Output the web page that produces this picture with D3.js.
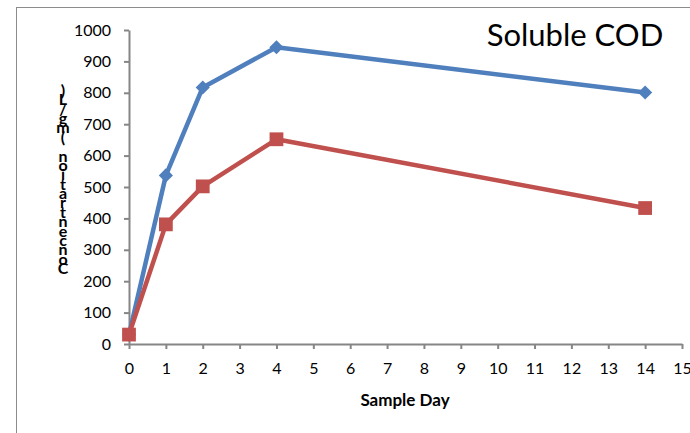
<!DOCTYPE html>
<html>
<head>
<meta charset="utf-8">
<script src="https://cdn.jsdelivr.net/npm/d3@7"></script>
<style>
  body { margin: 0; background: #fff; }
  svg { display: block; font-family: Lato, "Open Sans", sans-serif; }
</style>
</head>
<body>
<svg id="drawing_region"></svg>
<script>
// data
const days = [0, 1, 2, 4, 14];
const seriesA = [30, 537, 817, 945, 801];   // blue diamonds
const seriesB = [30, 381, 502, 652, 433];   // red squares
const xTicks = d3.range(0, 16);
const yTicks = d3.range(0, 1001, 100);
const chartTitle = "Soluble COD";
const xTitle = "Sample Day";
const yTitle = "Concentration (mg/L)";

const config = {
    width: 690,
    height: 433,
    margin: {top: 30, right: 8, bottom: 89, left: 129}
};

const svg = d3.select('#drawing_region')
    .attr('width', config.width)
    .attr('height', config.height);

// outer chart-area frame (cropped on the right and bottom)
svg.append('rect')
    .attr('x', 16.5).attr('y', 7.5)
    .attr('width', 800).attr('height', 800)
    .attr('fill', 'none')
    .attr('stroke', '#8c8c8c')
    .attr('stroke-width', 1);

const x = d3.scaleLinear().domain([0, 15]).range([config.margin.left, 682]);
const y = d3.scaleLinear().domain([0, 1000]).range([344, config.margin.top]);

const xAxis = svg.append('g')
    .attr('transform', 'translate(0,344)')
    .call(d3.axisBottom(x).tickValues(xTicks).tickFormat(d3.format('d'))
        .tickSize(5).tickSizeOuter(0).tickPadding(14));

const yAxis = svg.append('g')
    .attr('transform', `translate(${config.margin.left},0)`)
    .call(d3.axisLeft(y).tickValues(yTicks).tickFormat(d3.format('d'))
        .tickSize(5).tickSizeOuter(0).tickPadding(13));

[xAxis, yAxis].forEach(g => {
    g.selectAll('path, line').attr('stroke', '#868686').attr('stroke-width', 2);
    g.selectAll('text')
        .attr('fill', '#000')
        .style('font-size', '16px')
        .style('font-family', 'Lato, sans-serif');
});

// lines
const line = d3.line()
    .x((d, i) => x(days[i]))
    .y(d => y(d));

const seriesList = [
    {values: seriesA, color: '#4F7FBC', symbol: d3.symbolSquare, size: 100, rotate: 45},
    {values: seriesB, color: '#C0504D', symbol: d3.symbolSquare, size: 190, rotate: 0}
];

seriesList.forEach(s => {
    svg.append('path')
        .datum(s.values)
        .attr('d', line)
        .attr('fill', 'none')
        .attr('stroke', s.color)
        .attr('stroke-width', 4.5)
        .attr('stroke-linejoin', 'round');
});

seriesList.forEach(s => {
    svg.selectAll(null)
        .data(s.values)
        .enter()
        .append('path')
        .attr('d', d3.symbol().type(s.symbol).size(s.size))
        .attr('transform', (d, i) => `translate(${x(days[i])},${y(d)}) rotate(${s.rotate})`)
        .attr('fill', s.color);
});

// title
svg.append('text')
    .attr('x', 575)
    .attr('y', 46)
    .attr('text-anchor', 'middle')
    .style('font-size', '31px')
    .text(chartTitle);

// x axis title
svg.append('text')
    .attr('x', 405)
    .attr('y', 406)
    .attr('text-anchor', 'middle')
    .style('font-size', '17px')
    .style('font-weight', 'bold')
    .text(xTitle);

// y axis title: upright letters stacked bottom to top
const chars = Array.from(yTitle);
const yChar = d3.scalePoint()
    .domain(d3.range(chars.length))
    .range([274, 96]);

svg.append('g')
    .selectAll('text')
    .data(chars)
    .enter()
    .append('text')
    .attr('x', 63)
    .attr('y', (d, i) => yChar(i))
    .attr('text-anchor', 'middle')
    .style('font-size', '16px')
    .style('font-weight', 'bold')
    .text(d => d);
</script>
</body>
</html>
